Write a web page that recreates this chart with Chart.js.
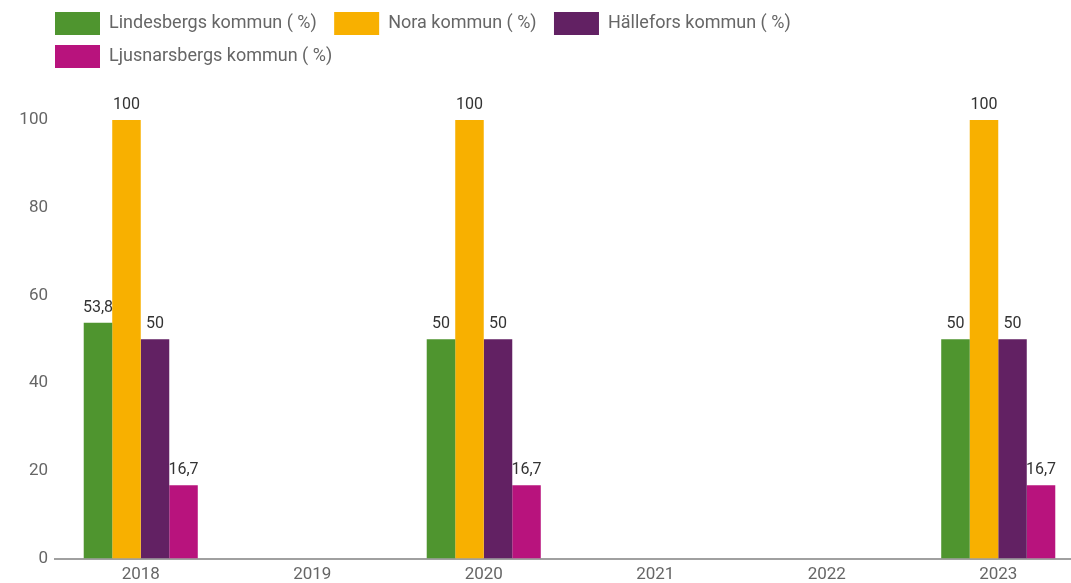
<!DOCTYPE html>
<html lang="sv">
<head>
    <meta charset="UTF-8">
    <title>Kommuner (%)</title>
    <script src="https://cdn.jsdelivr.net/npm/chart.js"></script>
    <style>
        html, body {
            margin: 0;
            padding: 0;
            background: #fff;
            overflow: hidden;
        }
        .chart-box {
            width: 1084px;
            height: 587px;
        }
    </style>
</head>
<body>
    <div class="chart-box">
        <canvas id="chart"></canvas>
    </div>

    <script>
        // data
        const years = ['2018', '2019', '2020', '2021', '2022', '2023'];
        const seriesNames = [
            'Lindesbergs kommun ( %)',
            'Nora kommun ( %)',
            'Hällefors kommun ( %)',
            'Ljusnarsbergs kommun ( %)'
        ];
        const lindesberg = [53.8, null, 50, null, null, 50];
        const nora = [100, null, 100, null, null, 100];
        const hallefors = [50, null, 50, null, null, 50];
        const ljusnarsberg = [16.7, null, 16.7, null, null, 16.7];
        const yTicks = [0, 20, 40, 60, 80, 100];

        const colors = ['#4f952f', '#f8b000', '#622163', '#b8137d'];
        const values = [lindesberg, nora, hallefors, ljusnarsberg];

        Chart.defaults.font.family = 'Roboto, "Noto Sans", sans-serif';

        // value labels above the bars, swedish decimal comma
        const barLabels = {
            id: 'barLabels',
            afterDatasetsDraw(chart) {
                const ctx = chart.ctx;
                ctx.save();
                ctx.font = '16px Roboto, sans-serif';
                ctx.fillStyle = '#333';
                ctx.textAlign = 'center';
                ctx.textBaseline = 'bottom';
                chart.data.datasets.forEach((ds, i) => {
                    chart.getDatasetMeta(i).data.forEach((bar, j) => {
                        const v = ds.data[j];
                        if (v === null || v === undefined) return;
                        ctx.fillText(String(v).replace('.', ','), bar.x, bar.y - 7);
                    });
                });
                ctx.restore();
            }
        };

        // legend: wrap after three items, line up with the plot, space below
        const legendPlace = {
            id: 'legendPlace',
            beforeInit(chart) {
                const fit = chart.legend.fit;
                chart.legend.fit = function () {
                    this.maxWidth = Math.min(this.maxWidth, 820);
                    fit.call(this);
                    this.height += 42;
                };
            },
            afterLayout(chart) {
                chart.legend.left += 45;
                chart.legend.right = chart.legend.left + 800;
            }
        };

        new Chart(document.getElementById('chart'), {
            type: 'bar',
            data: {
                labels: years,
                datasets: seriesNames.map((name, i) => ({
                    label: name,
                    data: values[i],
                    backgroundColor: colors[i],
                    categoryPercentage: 0.665,
                    barPercentage: 1
                }))
            },
            options: {
                responsive: true,
                maintainAspectRatio: false,
                animation: false,
                layout: {
                    padding: { top: 2, left: 0, right: 0, bottom: 0 }
                },
                plugins: {
                    legend: {
                        position: 'top',
                        align: 'start',
                        labels: {
                            boxWidth: 45,
                            boxHeight: 23,
                            padding: 10,
                            color: '#666',
                            font: { size: 18 },
                            generateLabels(chart) {
                                // two thin spaces widen the gap between items
                                return Chart.defaults.plugins.legend.labels.generateLabels(chart)
                                    .map(item => Object.assign(item, { text: item.text + '\u2009\u2009' }));
                            }
                        }
                    },
                    tooltip: { enabled: false }
                },
                scales: {
                    x: {
                        grid: { display: false, tickLength: 4 },
                        border: { display: true, color: '#a0a0a0', width: 2 },
                        ticks: {
                            color: '#666',
                            font: { size: 17 },
                            padding: 2
                        }
                    },
                    y: {
                        min: 0,
                        max: 100,
                        afterFit(scale) { scale.width = 55; },
                        afterBuildTicks(scale) {
                            scale.ticks = yTicks.map(v => ({ value: v }));
                        },
                        grid: { display: false, tickLength: 0 },
                        border: { display: false },
                        ticks: {
                            color: '#666',
                            font: { size: 17 },
                            padding: 7
                        }
                    }
                }
            },
            plugins: [barLabels, legendPlace]
        });
    </script>
</body>
</html>
